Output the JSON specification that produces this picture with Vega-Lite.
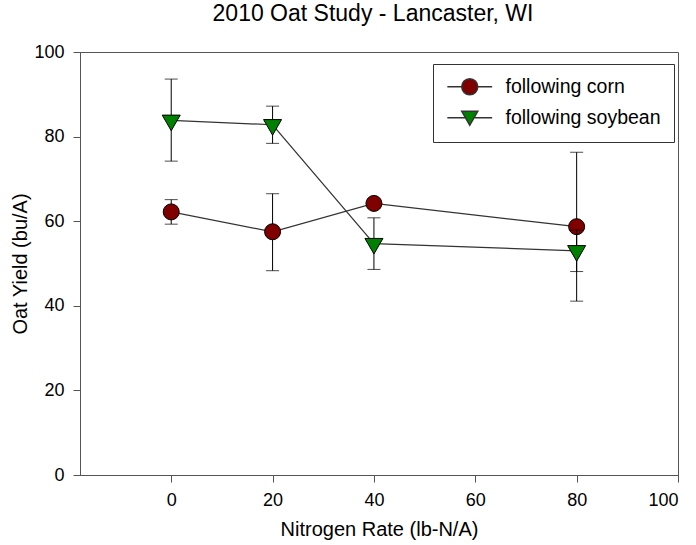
{
  "$schema": "https://vega.github.io/schema/vega-lite/v6.json",
  "width": 598,
  "height": 423,
  "autosize": {"type": "none"},
  "padding": {"left": 80, "top": 52, "right": 18, "bottom": 70},
  "background": "white",
  "config": {
    "font": "Liberation Sans",
    "view": {"stroke": "#555", "strokeWidth": 1},
    "axis": {
      "domainColor": "#555", "tickColor": "#555", "grid": false,
      "labelFontSize": 18, "titleFontSize": 20, "labelColor": "black", "titleColor": "black",
      "titleFontWeight": "normal", "tickSize": 7, "labelFont": "Liberation Sans", "titleFont": "Liberation Sans"
    },
    "legend": {
      "orient": "none", "legendX": 353, "legendY": 12,
      "strokeColor": "#333", "fillColor": "white", "padding": 13,
      "labelFontSize": 19.5, "labelFont": "Liberation Sans", "labelColor": "black", "labelLimit": 400,
      "symbolSize": 256, "symbolOffset": 14, "labelOffset": 26, "rowPadding": 9
    }
  },
  "title": {"text": "2010 Oat Study - Lancaster, WI", "fontSize": 23, "fontWeight": "normal", "font": "Liberation Sans", "offset": 17, "dx": -6, "color": "black"},
  "data": {"values": [
    {"series": "following corn", "n": 0, "yield": 62.2, "lo": 59.3, "hi": 65.1},
    {"series": "following corn", "n": 20, "yield": 57.5, "lo": 48.3, "hi": 66.5},
    {"series": "following corn", "n": 40, "yield": 64.2, "lo": 63.2, "hi": 65.2},
    {"series": "following corn", "n": 80, "yield": 58.7, "lo": 41.1, "hi": 76.3},
    {"series": "following soybean", "n": 0, "yield": 83.85, "lo": 74.2, "hi": 93.6},
    {"series": "following soybean", "n": 20, "yield": 82.8, "lo": 78.4, "hi": 87.2},
    {"series": "following soybean", "n": 40, "yield": 54.7, "lo": 48.6, "hi": 60.8},
    {"series": "following soybean", "n": 80, "yield": 53.0, "lo": 48.1, "hi": 57.9}
  ]},
  "encoding": {
    "x": {"field": "n", "type": "quantitative", "scale": {"domain": [-18, 100], "nice": false, "zero": false},
          "axis": {"values": [0, 20, 40, 60, 80, 100], "title": "Nitrogen Rate (lb-N/A)", "labelPadding": 9, "titlePadding": 10}},
    "y": {"field": "yield", "type": "quantitative", "scale": {"domain": [0, 100], "nice": false},
          "axis": {"values": [0, 20, 40, 60, 80, 100], "title": "Oat Yield (bu/A)", "labelPadding": 9, "titlePadding": 3}}
  },
  "layer": [
    {
      "transform": [{"filter": "datum.series == 'following corn'"}],
      "layer": [
        {"mark": {"type": "rule", "color": "black", "strokeWidth": 1}, "encoding": {"y": {"field": "lo", "type": "quantitative"}, "y2": {"field": "hi"}}},
        {"mark": {"type": "tick", "orient": "horizontal", "size": 13, "thickness": 1, "color": "black"}, "encoding": {"y": {"field": "lo", "type": "quantitative"}}},
        {"mark": {"type": "tick", "orient": "horizontal", "size": 13, "thickness": 1, "color": "black"}, "encoding": {"y": {"field": "hi", "type": "quantitative"}}},
        {"mark": {"type": "line", "color": "#333", "strokeWidth": 1.2}},
        {"mark": {"type": "point", "shape": "circle", "filled": true, "fill": "#800000", "stroke": "black", "strokeWidth": 1, "opacity": 1, "size": 256}}
      ]
    },
    {
      "transform": [{"filter": "datum.series == 'following soybean'"}],
      "layer": [
        {"mark": {"type": "rule", "color": "black", "strokeWidth": 1}, "encoding": {"y": {"field": "lo", "type": "quantitative"}, "y2": {"field": "hi"}}},
        {"mark": {"type": "tick", "orient": "horizontal", "size": 13, "thickness": 1, "color": "black"}, "encoding": {"y": {"field": "lo", "type": "quantitative"}}},
        {"mark": {"type": "tick", "orient": "horizontal", "size": 13, "thickness": 1, "color": "black"}, "encoding": {"y": {"field": "hi", "type": "quantitative"}}},
        {"mark": {"type": "line", "color": "#333", "strokeWidth": 1.2}},
        {"mark": {"type": "point", "shape": "M-1,-0.577L1,-0.577L0,1.155Z", "filled": true, "fill": "#008000", "stroke": "black", "strokeWidth": 1, "opacity": 1, "size": 324}}
      ]
    },
    {
      "transform": [{"filter": "false"}],
      "mark": {"type": "point", "filled": true, "stroke": "#333", "strokeWidth": 1, "opacity": 1},
      "encoding": {
        "fill": {
          "field": "series", "type": "nominal",
          "scale": {"domain": ["following corn", "following soybean"], "range": ["#800000", "#008000"]},
          "legend": {"title": null}
        },
        "shape": {
          "field": "series", "type": "nominal",
          "scale": {"domain": ["following corn", "following soybean"], "range": ["M-2.8,0L-1,0M1,0L2.8,0M1,0A1,1,0,1,1,-1,0A1,1,0,1,1,1,0Z", "M-2.8,0L-0.55,0M0.55,0L2.8,0M-1,-0.8L1,-0.8L0,0.95Z"]},
          "legend": {"title": null}
        }
      }
    }
  ]
}
